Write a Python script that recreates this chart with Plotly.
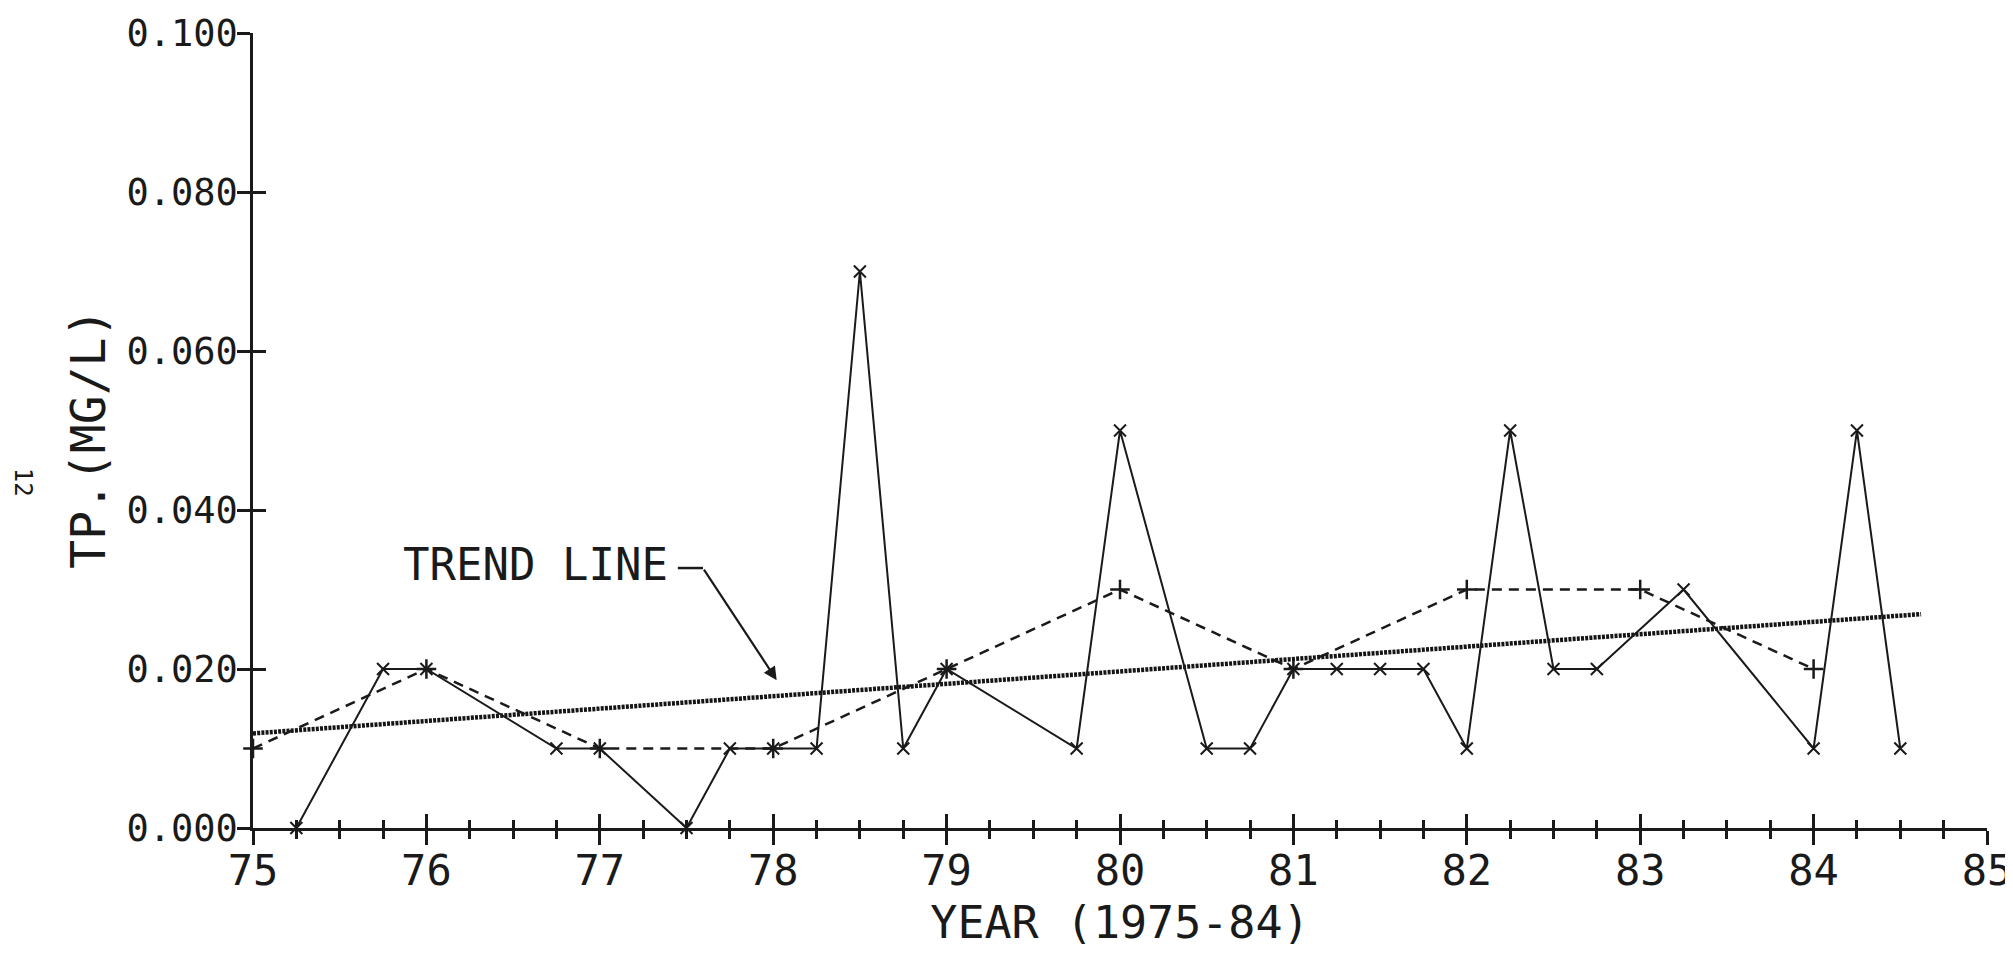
import plotly.graph_objects as go

# ---- data ----
obs_year = [75.25, 75.75, 76.0, 76.75, 77.0, 77.5, 77.75, 78.0, 78.25, 78.5, 78.75,
            79.0, 79.75, 80.0, 80.5, 80.75, 81.0, 81.25, 81.5, 81.75, 82.0, 82.25,
            82.5, 82.75, 83.25, 84.0, 84.25, 84.5]
obs_tp = [0.000, 0.020, 0.020, 0.010, 0.010, 0.000, 0.010, 0.010, 0.010, 0.070, 0.010,
          0.020, 0.010, 0.050, 0.010, 0.010, 0.020, 0.020, 0.020, 0.020, 0.010, 0.050,
          0.020, 0.020, 0.030, 0.010, 0.050, 0.010]

annual_year = [75.0, 76.0, 77.0, 78.0, 79.0, 80.0, 81.0, 82.0, 83.0, 84.0]
annual_tp = [0.010, 0.020, 0.010, 0.010, 0.020, 0.030, 0.020, 0.030, 0.030, 0.020]

trend_year = [75.0, 84.62]
trend_tp = [0.0119, 0.0269]

x_range = [75, 85]
y_range = [0, 0.1]
x_tickvals = [75, 76, 77, 78, 79, 80, 81, 82, 83, 84, 85]
x_ticktext = ["75", "76", "77", "78", "79", "80", "81", "82", "83", "84", "85"]
y_tickvals = [0.0, 0.02, 0.04, 0.06, 0.08, 0.1]
y_ticktext = ["0.000", "0.020", "0.040", "0.060", "0.080", "0.100"]

INK = "#1a1a1a"
FONT = "DejaVu Sans Mono"

fig = go.Figure()

# trend line (heavy dotted)
fig.add_trace(go.Scatter(
    x=trend_year, y=trend_tp, mode="lines",
    line=dict(color="#151515", width=4.5, dash="3px,1.2px"),
    showlegend=False, hoverinfo="skip", cliponaxis=False))

# annual values (dashed with + markers)
fig.add_trace(go.Scatter(
    x=annual_year, y=annual_tp, mode="lines+markers",
    line=dict(color=INK, width=2.5, dash="10px,7px"),
    marker=dict(symbol="cross-thin-open", size=14, line=dict(color=INK, width=2.5)),
    showlegend=False, cliponaxis=False))

# quarterly observations (solid with x markers)
fig.add_trace(go.Scatter(
    x=obs_year, y=obs_tp, mode="lines+markers",
    line=dict(color=INK, width=2),
    marker=dict(symbol="x-thin-open", size=12, line=dict(color=INK, width=2)),
    showlegend=False, cliponaxis=False))

# invisible trace on the overlay axes (inner half of crossing ticks)
fig.add_trace(go.Scatter(
    x=trend_year, y=trend_tp, xaxis="x2", yaxis="y2", mode="lines",
    line=dict(width=0), opacity=0, showlegend=False, hoverinfo="skip"))

# page body has an 8px default margin: figure is placed at (8, 8)
fig.update_layout(
    width=2005, height=941, autosize=False,
    paper_bgcolor="white", plot_bgcolor="white",
    margin=dict(l=245, r=26, t=25, b=121, autoexpand=False),
    font=dict(family=FONT, color=INK),
    showlegend=False,
    xaxis=dict(
        range=x_range, showgrid=False, zeroline=False, automargin=False,
        showline=True, linecolor=INK, linewidth=2.5,
        tickmode="array", tickvals=x_tickvals, ticktext=x_ticktext,
        ticks="outside", ticklen=14, tickwidth=2.5, tickcolor=INK,
        minor=dict(dtick=0.25, tick0=75, ticks="outside", ticklen=8,
                   tickwidth=2.5, tickcolor=INK, showgrid=False),
        tickfont=dict(family=FONT, size=42, color=INK),
        ticklabelstandoff=-10, ticklabeloverflow="allow",
        title=dict(text="YEAR (1975-84)", font=dict(family=FONT, size=45, color=INK),
                   standoff=21),
    ),
    yaxis=dict(
        range=y_range, showgrid=False, zeroline=False, automargin=False,
        showline=True, linecolor=INK, linewidth=2.5,
        tickmode="array", tickvals=y_tickvals, ticktext=y_ticktext,
        ticks="outside", ticklen=13, tickwidth=2.5, tickcolor=INK,
        tickfont=dict(family=FONT, size=37, color=INK),
        ticklabelstandoff=-8, ticklabeloverflow="allow",
    ),
    xaxis2=dict(
        range=x_range, overlaying="x", anchor="y2", side="bottom", automargin=False,
        showgrid=False, zeroline=False, showline=False, showticklabels=False,
        tickmode="array", tickvals=x_tickvals,
        ticks="inside", ticklen=14, tickwidth=2.5, tickcolor=INK,
        minor=dict(dtick=0.25, tick0=75, ticks="inside", ticklen=8,
                   tickwidth=2.5, tickcolor=INK, showgrid=False),
    ),
    yaxis2=dict(
        range=y_range, overlaying="y", anchor="x2", side="left", automargin=False,
        showgrid=False, zeroline=False, showline=False, showticklabels=False,
        tickmode="array", tickvals=y_tickvals,
        ticks="inside", ticklen=13, tickwidth=2.5, tickcolor=INK,
    ),
)

# y-axis title placed as rotated text
fig.add_annotation(x=-0.095, y=0.49, xref="paper", yref="paper", text="TP.(MG/L)",
                   textangle=-90, showarrow=False, xanchor="center", yanchor="middle",
                   font=dict(family=FONT, size=48, color=INK))

# "TREND LINE" label with leader and arrow
fig.add_annotation(x=76.63, y=0.0331, xref="x", yref="y", text="TREND LINE",
                   showarrow=False, font=dict(family=FONT, size=44, color=INK))
fig.add_shape(type="line", x0=77.45, y0=0.0327, x1=77.595, y1=0.0327,
              xref="x", yref="y", line=dict(color=INK, width=2.5))
fig.add_annotation(x=78.02, y=0.0186, ax=77.595, ay=0.0327, axref="x", ayref="y",
                   xref="x", yref="y", text="", showarrow=True,
                   arrowhead=2, arrowsize=1.2, arrowwidth=2.2, arrowcolor=INK)

# page number on the scanned sheet
fig.add_annotation(x=-0.133, y=0.435, xref="paper", yref="paper", text="12",
                   textangle=90, showarrow=False, xanchor="center", yanchor="middle",
                   font=dict(family=FONT, size=24, color=INK))

fig.write_html("out.html")
